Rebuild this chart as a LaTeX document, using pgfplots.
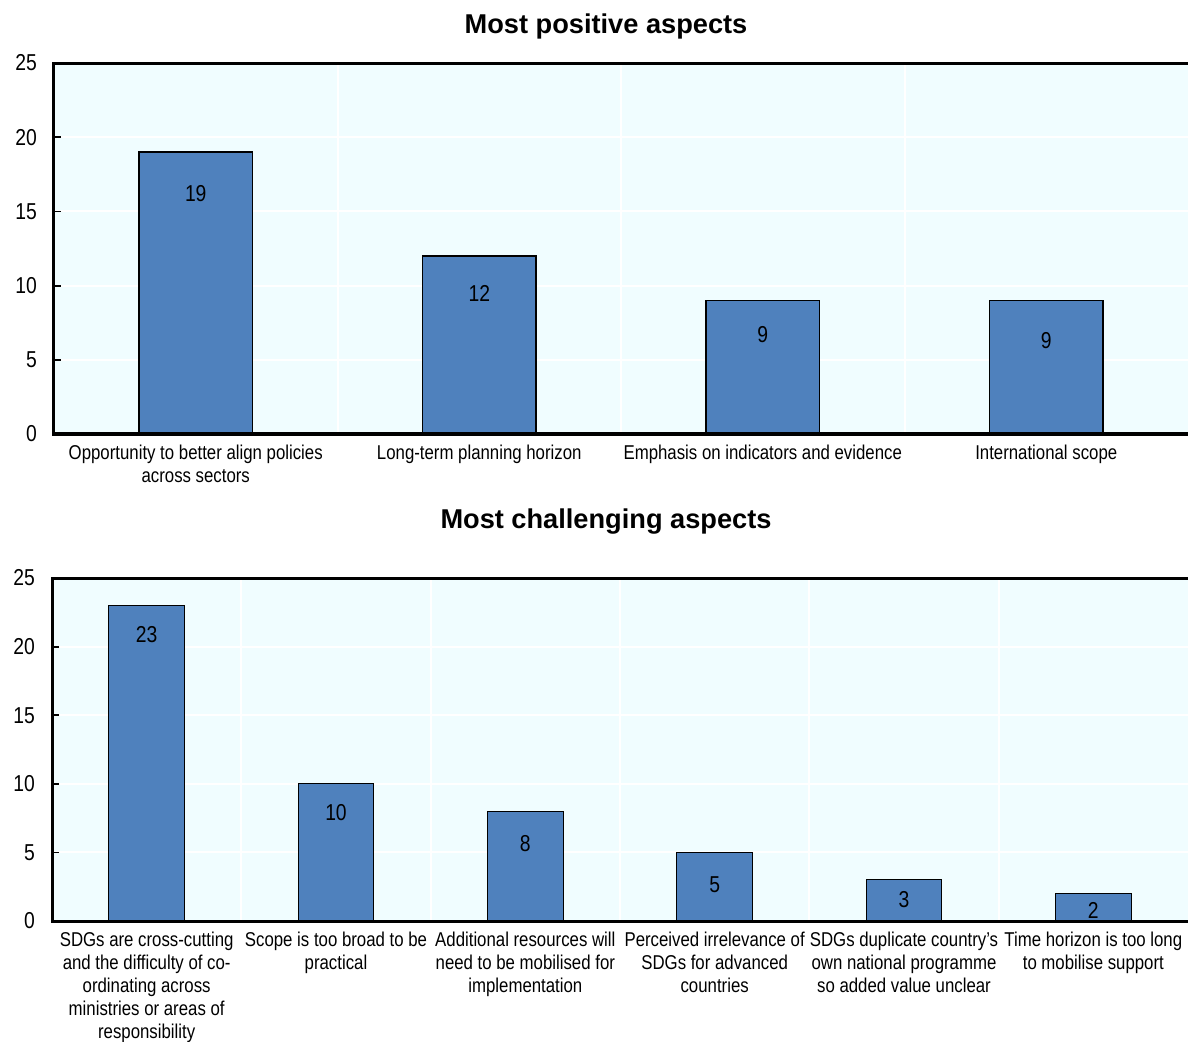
\documentclass[border=0pt]{standalone}
\usepackage{pgfplots}
\pgfplotsset{compat=1.18}
\usepackage{fontspec}
\setmainfont{Liberation Sans}[FakeStretch=0.84]
\newfontfamily\titlefont{Liberation Sans}
\definecolor{barblue}{RGB}{79,129,189}
\definecolor{bgcyan}{RGB}{240,253,255}
\pgfplotsset{
  oecd/.style={
    scale only axis,
    axis background/.style={fill=bgcyan},
    axis line style={draw=none},
    ymin=0, ymax=25, ytick={0,5,...,25},
    ymajorgrids=true,
    major grid style={white, line width=1pt},
    tick align=inside,
    tick pos=left,
    major tick length=3.5pt,
    tick style={black, line width=0.9pt},
    xtick style={draw=none},
    extra x tick style={tick style={draw=black, line width=0.9pt}, major tick length=3pt, grid=major},
    /pgf/number format/assume math mode=true,
    yticklabel style={font=\fontsize{11.5}{13}\selectfont, xshift=-5pt},
    xticklabel style={font=\fontsize{10}{11.5}\selectfont, align=center, anchor=north, yshift=-2pt},
    clip=false,
  }
}
\begin{document}
\begin{tikzpicture}
\begin{axis}[oecd, at={(27pt,-217pt)}, anchor=south west, width=567pt, height=185.5pt,
  xmin=-0.5, xmax=3.5, xtick={0,1,2,3},
  xticklabels={{Opportunity to better align policies\\across sectors},{Long-term planning horizon},{Emphasis on indicators and evidence},{International scope}},
  extra x ticks={0.5,1.5,2.5}, extra x tick labels={}]
\addplot[ybar, bar width=0.4, fill=barblue, draw=black, line width=0.6pt] coordinates {(0,19) (1,12) (2,9) (3,9)};
\addplot[draw=none, mark=none, nodes near coords, point meta=explicit symbolic, nodes near coords align={center}, every node near coord/.append style={font=\fontsize{11.5}{13}\selectfont}] coordinates {(0,16.17)[19] (1,9.5)[12] (2,6.67)[9] (3,6.27)[9]};
\draw[line width=1.5pt] (rel axis cs:1,1) -- (rel axis cs:0,1) -- (rel axis cs:0,0) -- (rel axis cs:1,0);
\end{axis}
\node[font=\titlefont\bfseries\fontsize{13.6}{15}\selectfont] at (303pt,-13.2pt) {Most positive aspects};
\node[font=\titlefont\bfseries\fontsize{13.6}{15}\selectfont] at (303pt,-260.7pt) {Most challenging aspects};
\begin{axis}[oecd, at={(26pt,-460.5pt)}, anchor=south west, width=568pt, height=171.5pt,
  xmin=-0.5, xmax=5.5, xtick={0,1,2,3,4,5},
  xticklabels={{SDGs are cross-cutting\\and the difficulty of co-\\ordinating across\\ministries or areas of\\responsibility},{Scope is too broad to be\\practical},{Additional resources will\\need to be mobilised for\\implementation},{Perceived irrelevance of\\SDGs for advanced\\countries},{SDGs duplicate country’s\\own national programme\\so added value unclear},{Time horizon is too long\\to mobilise support}},
  extra x ticks={0.5,1.5,2.5,3.5,4.5}, extra x tick labels={}]
\addplot[ybar, bar width=0.4, fill=barblue, draw=black, line width=0.6pt] coordinates {(0,23) (1,10) (2,8) (3,5) (4,3) (5,2)};
\addplot[draw=none, mark=none, nodes near coords, point meta=explicit symbolic, nodes near coords align={center}, every node near coord/.append style={font=\fontsize{11.5}{13}\selectfont}] coordinates {(0,20.9)[23] (1,7.87)[10] (2,5.61)[8] (3,2.62)[5] (4,1.53)[3] (5,0.8)[2]};
\draw[line width=1.5pt] (rel axis cs:1,1) -- (rel axis cs:0,1) -- (rel axis cs:0,0) -- (rel axis cs:1,0);
\end{axis}
\pgfresetboundingbox
\path[use as bounding box] (0,0) rectangle (594pt,-521pt);
\end{tikzpicture}
\end{document}
